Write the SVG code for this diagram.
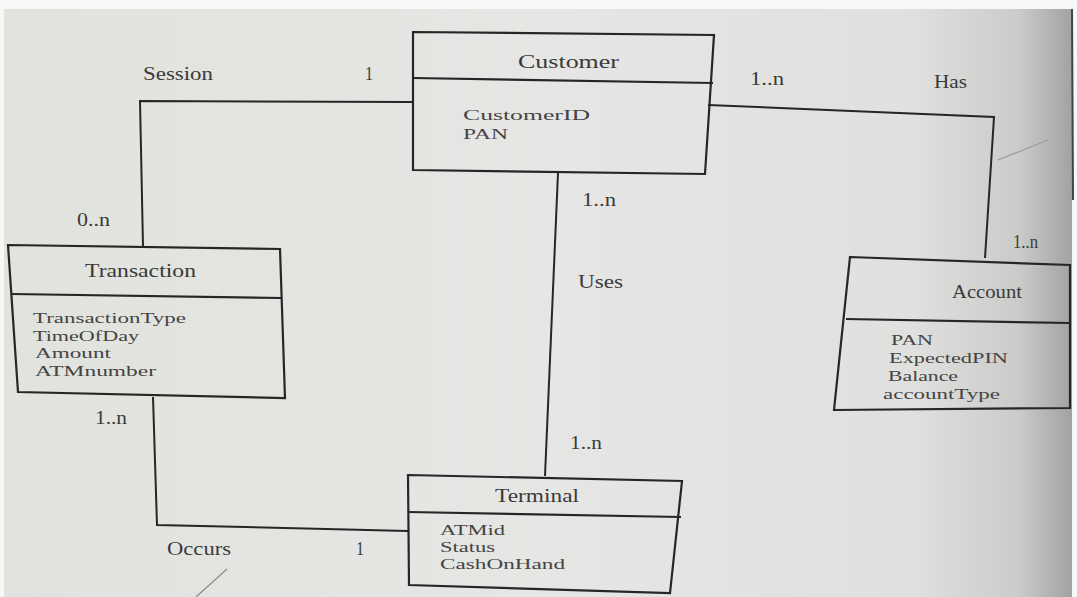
<svg xmlns="http://www.w3.org/2000/svg" width="1077" height="597" viewBox="0 0 1077 597">
  <defs>
    <linearGradient id="page" x1="0" y1="0" x2="1" y2="0">
      <stop offset="0" stop-color="#e1e3de"/>
      <stop offset="0.5" stop-color="#e6e6e4"/>
      <stop offset="0.85" stop-color="#e0e0de"/>
      <stop offset="0.95" stop-color="#cbcbc9"/>
      <stop offset="1" stop-color="#a2a2a2"/>
    </linearGradient>
    <style>
      .box { fill: none; stroke: #262626; stroke-width: 2.2; stroke-linejoin: miter; }
      .conn { fill: none; stroke: #262626; stroke-width: 2; }
      text { font-family: "Liberation Serif", "Times New Roman", serif; font-size: 18px; fill: #3a3a3a; }
      .attr { fill: #444444; font-size: 15px; }
    </style>
  </defs>

  <!-- photo background -->
  <rect x="0" y="0" width="1077" height="597" fill="#f7f7f7"/>
  <rect x="4" y="9" width="1068" height="588" fill="url(#page)"/>
  <path d="M1072,9 L1073,200" stroke="#444" stroke-width="2" fill="none"/>
  <path d="M1048,140 L998,160" stroke="#9a9a9a" stroke-width="1.2" fill="none"/>
  <path d="M227,569 L196,597" stroke="#8a8a8a" stroke-width="1.2" fill="none"/>

  <g id="connectors">
    <path class="conn" d="M413,102 L140,101 L143,246"/>
    <path class="conn" d="M708,105 L994,117 L985,258"/>
    <path class="conn" d="M558,173 L545,476"/>
    <path class="conn" d="M153,397 L157,525 L408,531"/>
    <g id="labels">
      <text x="143" y="80" textLength="70" lengthAdjust="spacingAndGlyphs">Session</text>
      <text x="365" y="80" textLength="8" lengthAdjust="spacingAndGlyphs">1</text>
      <text x="77" y="226" textLength="33" lengthAdjust="spacingAndGlyphs">0..n</text>
      <text x="750" y="85" textLength="34" lengthAdjust="spacingAndGlyphs">1..n</text>
      <text x="934" y="88" textLength="33" lengthAdjust="spacingAndGlyphs">Has</text>
      <text x="582" y="206" textLength="34" lengthAdjust="spacingAndGlyphs">1..n</text>
      <text x="578" y="288" textLength="45" lengthAdjust="spacingAndGlyphs">Uses</text>
      <text x="1013" y="248" textLength="25" lengthAdjust="spacingAndGlyphs">1..n</text>
      <text x="95" y="424" textLength="32" lengthAdjust="spacingAndGlyphs">1..n</text>
      <text x="570" y="449" textLength="32" lengthAdjust="spacingAndGlyphs">1..n</text>
      <text x="167" y="555" textLength="64" lengthAdjust="spacingAndGlyphs">Occurs</text>
      <text x="356" y="555" textLength="8" lengthAdjust="spacingAndGlyphs">1</text>
    </g>
  </g>

  <g id="customer">
    <path class="box" d="M413,32 L714,35 L705,174 L413,170 Z"/>
    <path class="box" d="M413,78 L713,83"/>
    <text x="518" y="68" textLength="101" lengthAdjust="spacingAndGlyphs">Customer</text>
    <text class="attr" x="463" y="120" textLength="127" lengthAdjust="spacingAndGlyphs">CustomerID</text>
    <text class="attr" x="463" y="139" textLength="45" lengthAdjust="spacingAndGlyphs">PAN</text>
  </g>

  <g id="transaction">
    <path class="box" d="M8,245 L280,249 L285,398 L18,392 Z"/>
    <path class="box" d="M11,294 L281,298"/>
    <text x="85" y="277" textLength="111" lengthAdjust="spacingAndGlyphs">Transaction</text>
    <text class="attr" x="33" y="323" textLength="153" lengthAdjust="spacingAndGlyphs">TransactionType</text>
    <text class="attr" x="33" y="341" textLength="106" lengthAdjust="spacingAndGlyphs">TimeOfDay</text>
    <text class="attr" x="35" y="358" textLength="76" lengthAdjust="spacingAndGlyphs">Amount</text>
    <text class="attr" x="35" y="376" textLength="121" lengthAdjust="spacingAndGlyphs">ATMnumber</text>
  </g>

  <g id="terminal">
    <path class="box" d="M408,475 L682,481 L670,593 L409,585 Z"/>
    <path class="box" d="M408,512 L681,517"/>
    <text x="495" y="502" textLength="84" lengthAdjust="spacingAndGlyphs">Terminal</text>
    <text class="attr" x="440" y="535" textLength="65" lengthAdjust="spacingAndGlyphs">ATMid</text>
    <text class="attr" x="440" y="552" textLength="55" lengthAdjust="spacingAndGlyphs">Status</text>
    <text class="attr" x="440" y="569" textLength="125" lengthAdjust="spacingAndGlyphs">CashOnHand</text>
  </g>

  <g id="account">
    <path class="box" d="M850,257 L1070,265 L1070,408 L834,410 Z"/>
    <path class="box" d="M846,319 L1070,323"/>
    <text x="952" y="298" textLength="70" lengthAdjust="spacingAndGlyphs">Account</text>
    <text class="attr" x="891" y="345" textLength="42" lengthAdjust="spacingAndGlyphs">PAN</text>
    <text class="attr" x="889" y="363" textLength="119" lengthAdjust="spacingAndGlyphs">ExpectedPIN</text>
    <text class="attr" x="888" y="381" textLength="70" lengthAdjust="spacingAndGlyphs">Balance</text>
    <text class="attr" x="883" y="399" textLength="117" lengthAdjust="spacingAndGlyphs">accountType</text>
  </g>
</svg>
